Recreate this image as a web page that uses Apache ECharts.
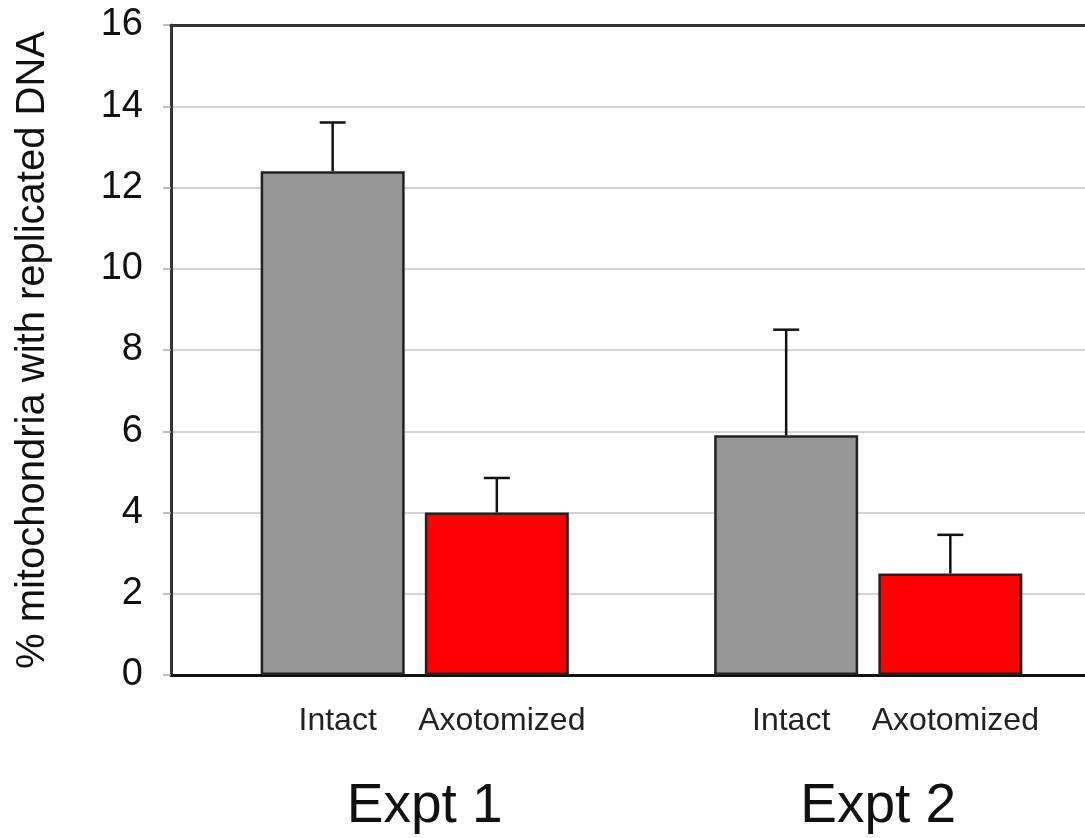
<!DOCTYPE html>
<html>
<head>
<meta charset="utf-8">
<style>
  html, body { margin: 0; padding: 0; background: #ffffff; }
  #chart { width: 1085px; height: 838px; }
</style>
<script src="https://cdn.jsdelivr.net/npm/echarts@6/dist/echarts.min.js"></script>
</head>
<body>
<div id="chart"></div>
<script>
// Experiments and conditions
const groups = ['Expt 1', 'Expt 2'];
const conditions = ['Intact', 'Axotomized'];

// Mean % of mitochondria with replicated DNA, with upper error (SEM)
const intactMean = [12.4, 5.9];
const intactErr = [1.2, 2.6];
const axotMean = [4.0, 2.5];
const axotErr = [0.85, 0.95];

// Y axis range
const yMin = 0, yMax = 16, yStep = 2;

const FONT = 'Liberation Sans, Arial, sans-serif';
const BAR_W = 144;
const BAR_GAP = 0.14;          // gap between the two bars, as a share of bar width
const GRID_TOP = 25, GRID_H = 650;

const chart = echarts.init(document.getElementById('chart'), null, { renderer: 'canvas' });

// error bar records: [groupIndex, mean, err, slot]
const errData = [];
groups.forEach((g, i) => {
  errData.push([i, intactMean[i], intactErr[i], 0]);
  errData.push([i, axotMean[i], axotErr[i], 1]);
});

function renderErr(params, api) {
  const gi = api.value(0), mean = api.value(1), err = api.value(2), slot = api.value(3);
  const off = (slot === 0 ? -1 : 1) * (BAR_W + BAR_W * BAR_GAP) / 2;
  const base = api.coord([gi, mean]);
  const top = api.coord([gi, mean + err]);
  const x = base[0] + off;
  const cap = 13;
  const style = { stroke: '#111', lineWidth: 2.5, fill: null };
  return {
    type: 'group',
    children: [
      { type: 'line', shape: { x1: x, y1: base[1], x2: x, y2: top[1] }, style },
      { type: 'line', shape: { x1: x - cap, y1: top[1], x2: x + cap, y2: top[1] }, style }
    ]
  };
}

const barLabel = (name) => ({
  show: true,
  position: 'bottom',
  distance: 30,
  offset: [5, 0],
  formatter: name,
  color: '#222',
  fontFamily: FONT,
  fontSize: 32
});

chart.setOption({
  backgroundColor: '#ffffff',
  animation: false,
  grid: [
    // frame, value axis and gridlines
    { left: 171, top: GRID_TOP, width: 960, height: GRID_H, outerBoundsMode: 'none', containLabel: false },
    // bars, centred on the two experiments
    { left: 188, top: GRID_TOP, width: 907, height: GRID_H, outerBoundsMode: 'none', containLabel: false }
  ],
  xAxis: [
    { gridIndex: 0, type: 'value', min: 0, max: 1, position: 'bottom',
      axisLine: { show: true, lineStyle: { color: '#111', width: 3 } },
      axisTick: { show: false }, axisLabel: { show: false }, splitLine: { show: false } },
    { gridIndex: 1, type: 'category', data: groups,
      axisLine: { show: false }, axisTick: { show: false }, splitLine: { show: false },
      axisLabel: { color: '#111', fontFamily: FONT, fontSize: 55, margin: 104, padding: [0, 0, 0, 20] } },
    // top frame line
    { gridIndex: 0, type: 'value', min: 0, max: 1, position: 'top', z: 3,
      axisLine: { show: true, lineStyle: { color: '#333', width: 3 } },
      axisTick: { show: false }, axisLabel: { show: false }, splitLine: { show: false } }
  ],
  yAxis: [
    { gridIndex: 0, type: 'value', min: yMin, max: yMax, interval: yStep,
      name: '% mitochondria with replicated DNA',
      nameLocation: 'middle', nameRotate: 90, nameGap: 118,
      nameTextStyle: { color: '#111', fontFamily: FONT, fontSize: 40 },
      axisLine: { show: true, lineStyle: { color: '#333', width: 3 } },
      axisTick: { show: true, inside: false, length: 8, lineStyle: { color: '#aaa', width: 1.5 } },
      axisLabel: { color: '#111', fontFamily: FONT, fontSize: 38, margin: 28 },
      splitLine: { show: true, lineStyle: { color: '#c4c4c4', width: 1.5 } } },
    { gridIndex: 1, type: 'value', min: yMin, max: yMax, interval: yStep, show: false }
  ],
  series: [
    { name: conditions[0], type: 'bar', xAxisIndex: 1, yAxisIndex: 1,
      data: intactMean, barWidth: BAR_W, barGap: (BAR_GAP * 100) + '%',
      itemStyle: { color: '#969696', borderColor: '#222', borderWidth: 2.5 },
      label: barLabel(conditions[0]) },
    { name: conditions[1], type: 'bar', xAxisIndex: 1, yAxisIndex: 1,
      data: axotMean, barWidth: BAR_W, barGap: (BAR_GAP * 100) + '%',
      itemStyle: { color: '#ff0000', borderColor: '#222', borderWidth: 2.5 },
      label: barLabel(conditions[1]) },
    { name: 'error', type: 'custom', xAxisIndex: 1, yAxisIndex: 1,
      data: errData, renderItem: renderErr, z: 5 }
  ]
});
</script>
</body>
</html>
